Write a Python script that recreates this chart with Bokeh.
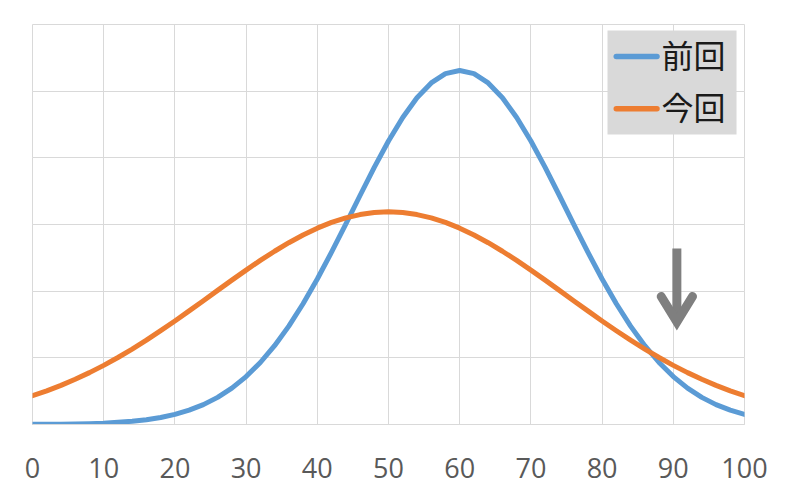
from bokeh.plotting import figure
from bokeh.models import Grid, FixedTicker, Range1d, BoxAnnotation, Label
from bokeh.embed import file_html
from bokeh.resources import INLINE

# ---- data ----
x_vals = list(range(0, 101, 2))
tick_labels = list(range(0, 101, 10))

zenkai = [0.002, 0.003, 0.005, 0.008, 0.013, 0.020, 0.032, 0.048, 0.072, 0.105,
          0.152, 0.215, 0.298, 0.407, 0.545, 0.719, 0.930, 1.182, 1.476, 1.811,
          2.183, 2.585, 3.007, 3.435, 3.856, 4.252, 4.606, 4.902, 5.124, 5.263,
          5.310, 5.263, 5.124, 4.902, 4.606, 4.252, 3.856, 3.435, 3.007, 2.585,
          2.183, 1.811, 1.476, 1.182, 0.930, 0.719, 0.545, 0.407, 0.298, 0.215,
          0.152]

konkai = [0.432, 0.505, 0.587, 0.678, 0.778, 0.887, 1.005, 1.131, 1.265, 1.407,
          1.553, 1.704, 1.857, 2.012, 2.166, 2.316, 2.462, 2.599, 2.727, 2.843,
          2.945, 3.031, 3.099, 3.149, 3.180, 3.190, 3.180, 3.149, 3.099, 3.031,
          2.945, 2.843, 2.727, 2.599, 2.462, 2.316, 2.166, 2.012, 1.857, 1.704,
          1.553, 1.407, 1.265, 1.131, 1.005, 0.887, 0.778, 0.678, 0.587, 0.505,
          0.432]

series_names = ["前回", "今回"]
series_colors = ["#5B9BD5", "#ED7D31"]

# arrow annotation (pointing down at x = 90)
arrow_shaft_x = [90.5, 90.5]
arrow_shaft_y = [2.64, 1.58]
arrow_head_x = [88.3, 90.5, 92.7]
arrow_head_y = [1.92, 1.54, 1.92]

# legend box placement (data units of the plot frame)
legend_box = dict(left=80.76, right=98.88, bottom=4.35, top=5.91)
legend_line_x = [81.99, 87.71]
legend_rows_y = [5.52, 4.735]
legend_text_x = 88.34

GRID = "#d9d9d9"

p = figure(width=772, height=485, output_backend="svg", toolbar_location=None,
           x_range=Range1d(0, 100), y_range=Range1d(0, 6),
           y_axis_location=None,
           min_border_left=32, min_border_right=28,
           min_border_top=24, min_border_bottom=61)

p.background_fill_color = "white"
p.border_fill_color = "white"
p.outline_line_color = GRID

# grids
p.xgrid.ticker = FixedTicker(ticks=tick_labels)
p.xgrid.grid_line_color = GRID
p.add_layout(Grid(dimension=1, ticker=FixedTicker(ticks=[0, 1, 2, 3, 4, 5, 6]),
                  grid_line_color=GRID))

# x axis
ax = p.xaxis[0]
ax.ticker = FixedTicker(ticks=tick_labels)
ax.axis_line_color = GRID
ax.major_tick_line_color = None
ax.minor_tick_line_color = None
ax.major_tick_out = 0
ax.major_tick_in = 0
ax.major_label_standoff = 33
ax.major_label_text_font = "Open Sans"
ax.major_label_text_font_size = "27px"
ax.major_label_text_line_height = 1.0
ax.major_label_text_color = "#595959"

# curves
for vals, name, col in zip([zenkai, konkai], series_names, series_colors):
    p.line(x_vals, vals, line_color=col, line_width=5,
           line_cap="round", line_join="round")

# arrow
p.line(arrow_shaft_x, arrow_shaft_y, line_color="#7f7f7f", line_width=9, line_cap="butt")
p.line(arrow_head_x, arrow_head_y, line_color="#7f7f7f", line_width=9,
       line_cap="round", line_join="miter")

# legend (grey box, sample lines, labels)
p.add_layout(BoxAnnotation(fill_color="#d9d9d9", fill_alpha=1.0, line_color=None,
                           level="annotation", **legend_box))
for name, col, yy in zip(series_names, series_colors, legend_rows_y):
    p.line(legend_line_x, [yy, yy], line_color=col, line_width=5.5,
           line_cap="round", level="overlay")
    p.add_layout(Label(x=legend_text_x, y=yy + 0.045, text=name,
                       text_font="Noto Sans CJK JP", text_font_size="32px",
                       text_color="#1a1a1a", text_baseline="middle",
                       text_align="left", level="overlay"))

open("out.html", "w").write(file_html(p, INLINE))
